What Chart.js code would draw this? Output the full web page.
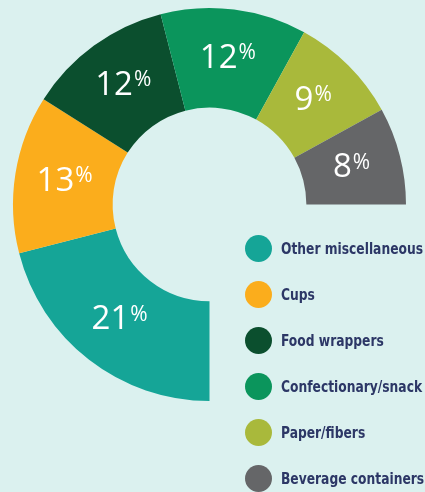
<!DOCTYPE html>
<html>
<head>
<meta charset="utf-8">
<script src="https://cdn.jsdelivr.net/npm/chart.js@4"></script>
<style>
    html, body { margin: 0; padding: 0; background: #dbf1ef; }
    .wrap { position: relative; width: 425px; height: 492px; overflow: hidden; }
    #litterChart { position: absolute; left: 0; top: 0; }
    .legend { position: absolute; left: 245px; top: 225px; list-style: none; margin: 0; padding: 0; }
    .legend li { display: flex; align-items: center; height: 46px; white-space: nowrap; }
    .legend .dot { width: 27px; height: 27px; border-radius: 50%; margin-right: 9px; flex: none; }
    .legend span.txt {
        display: inline-block; transform-origin: left center;
        font-family: "DejaVu Sans Condensed", "DejaVu Sans", sans-serif;
        font-weight: 700; font-size: 16.5px; color: #2c3766;
    }
</style>
</head>
<body>
<div class="wrap">
    <canvas id="litterChart" width="425" height="492"></canvas>
    <ul class="legend" id="legend"></ul>
</div>
<script>
const categories = ['Other miscellaneous', 'Cups', 'Food wrappers', 'Confectionary/snack', 'Paper/fibers', 'Beverage containers'];
const shares = [21, 13, 12, 12, 9, 8];
const sliceColors = ['#15a597', '#fbad1c', '#0b4f2e', '#0b955c', '#a9b93b', '#656668'];

// legend as plain html, right-bottom
const legendEl = document.getElementById('legend');
legendEl.innerHTML = categories.map((c, i) => `
    <li><span class="dot" style="background:${sliceColors[i]}"></span><span class="txt">${c}</span></li>
`).join('');

// the original font is a narrow one, squeeze so first label is ~142px wide
const txts = legendEl.querySelectorAll('.txt');
const squeeze = 142 / txts[0].getBoundingClientRect().width;
txts.forEach(t => { t.style.transform = `scaleX(${squeeze})`; });

// big white percentage inside each slice, smaller raised % sign
const sliceLabels = {
    id: 'sliceLabels',
    afterDatasetsDraw(chart) {
        const ctx = chart.ctx;
        const meta = chart.getDatasetMeta(0);
        const bigFont = '400 33px "Open Sans", sans-serif';
        const smallFont = '400 21px "Open Sans", sans-serif';
        ctx.save();
        ctx.fillStyle = '#ffffff';
        meta.data.forEach((arc, i) => {
            const pos = arc.tooltipPosition();
            const num = String(shares[i]);
            ctx.font = bigFont;
            const w1 = ctx.measureText(num).width;
            ctx.font = smallFont;
            const w2 = ctx.measureText('%').width;
            const x0 = pos.x - (w1 + w2 + 1) / 2;
            const base = pos.y + 9;
            ctx.textAlign = 'left';
            ctx.textBaseline = 'alphabetic';
            ctx.font = bigFont;
            ctx.fillText(num, x0, base);
            ctx.font = smallFont;
            ctx.fillText('%', x0 + w1 + 1, base - 8.5);
        });
        ctx.restore();
    }
};

new Chart(document.getElementById('litterChart'), {
    type: 'doughnut',
    data: {
        labels: categories,
        datasets: [{
            data: shares,
            backgroundColor: sliceColors,
            borderWidth: 0
        }]
    },
    options: {
        responsive: false,
        animation: false,
        rotation: 180,
        circumference: 270,
        cutout: '49.3%',
        layout: { padding: { left: 13, top: 8, right: 19, bottom: 91 } },
        plugins: {
            legend: { display: false },
            tooltip: { enabled: false }
        }
    },
    plugins: [sliceLabels]
});
</script>
</body>
</html>
